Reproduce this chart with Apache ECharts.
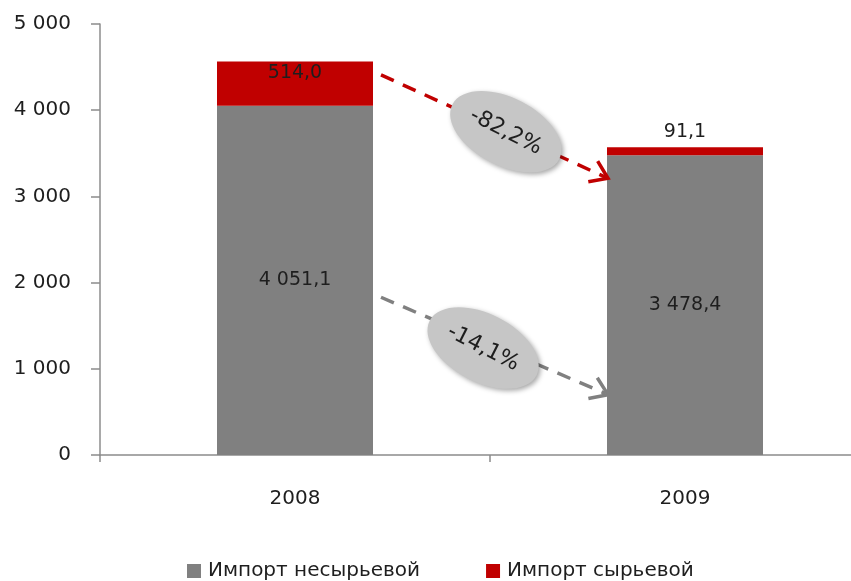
<!DOCTYPE html>
<html><head><meta charset="utf-8">
<script src="https://cdn.jsdelivr.net/npm/echarts@6/dist/echarts.min.js"></script>
<style>html,body{margin:0;padding:0;background:#fff}#c{width:851px;height:581px}</style>
</head><body><div id="c"></div>
<script>
const categories = ['2008', '2009'];
const nonRawImport = [4051.1, 3478.4];
const rawImport = [514.0, 91.1];
const seriesNames = ['Импорт несырьевой', 'Импорт сырьевой'];
const yTicks = [0, 1000, 2000, 3000, 4000, 5000];
const changeLabels = ['-82,2%', '-14,1%'];
const arrowStartValues = [4410, 1830];
const arrowEndValues = [3210, 700];

const FONT = 'DejaVu Sans';
const GRAY = '#808080', RED = '#c00000', TXT = '#1e1e1e';
function fmt(v, dec) {
  let s = dec ? v.toFixed(dec) : String(Math.round(v));
  let parts = s.split('.');
  let i = parts[0].replace(/\B(?=(\d{3})+(?!\d))/g, ' ');
  return parts[1] ? i + ',' + parts[1] : i;
}
const chart = echarts.init(document.getElementById('c'), null, {renderer: 'canvas'});
const rawLabelPos = ['insideTop', 'top'];
chart.setOption({
  animation: false,
  grid: {left: 100, top: 24, right: -29, bottom: 126, containLabel: false, outerBoundsMode: 'none'},
  legend: {
    left: 182, top: 556, itemWidth: 14, itemHeight: 14, itemGap: 66, icon: 'rect',
    data: seriesNames,
    textStyle: {fontFamily: FONT, fontSize: 20, color: TXT, padding: [0, 0, 0, 2]}
  },
  xAxis: {
    type: 'category', data: categories,
    axisLine: {lineStyle: {color: '#8c8c8c', width: 1.5}},
    axisTick: {show: true, length: 7, lineStyle: {color: '#8c8c8c', width: 1.5}},
    axisLabel: {fontFamily: FONT, fontSize: 20, color: TXT, margin: 34}
  },
  yAxis: {
    type: 'value', min: yTicks[0], max: yTicks[yTicks.length - 1], interval: yTicks[1] - yTicks[0],
    splitLine: {show: false},
    axisLine: {show: true, lineStyle: {color: '#8c8c8c', width: 1.5}},
    axisTick: {show: true, length: 9, lineStyle: {color: '#8c8c8c', width: 1.5}},
    axisLabel: {fontFamily: FONT, fontSize: 20, color: TXT, margin: 29, formatter: v => fmt(v)}
  },
  series: [
    {
      name: seriesNames[0], type: 'bar', stack: 's', barWidth: '40%',
      itemStyle: {color: GRAY},
      label: {show: true, position: 'inside', fontFamily: FONT, fontSize: 19, color: TXT,
        formatter: p => fmt(p.value, 1)},
      data: nonRawImport
    },
    {
      name: seriesNames[1], type: 'bar', stack: 's', barWidth: '40%',
      itemStyle: {color: RED},
      label: {show: true, fontFamily: FONT, fontSize: 19, color: TXT,
        formatter: p => fmt(p.value, 1)},
      data: rawImport.map((v, i) => ({value: v, label: {position: rawLabelPos[i], distance: rawLabelPos[i] === 'top' ? 6 : 2}}))
    }
  ]
});

// annotations positioned through the chart's own scales
const p0 = chart.convertToPixel({xAxisIndex: 0}, categories[0]);
const p1 = chart.convertToPixel({xAxisIndex: 0}, categories[1]);
const half = (p1 - p0) * 0.4 / 2;
const arrowColors = [RED, GRAY];
const badgeT = [0.55, 0.45];
const badgeShift = [0, 7];
const graphics = [];
for (let k = 0; k < 2; k++) {
  const x1 = p0 + half + 8, x2 = p1 - half + 1;
  const y1 = chart.convertToPixel({yAxisIndex: 0}, arrowStartValues[k]);
  const y2 = chart.convertToPixel({yAxisIndex: 0}, arrowEndValues[k]);
  const ang = Math.atan2(y2 - y1, x2 - x1);
  graphics.push({type: 'line', z: 10, shape: {x1: x1, y1: y1, x2: x2 - 3 * Math.cos(ang), y2: y2 - 3 * Math.sin(ang)},
    style: {stroke: arrowColors[k], lineWidth: 3.5, lineDash: [14, 10]}});
  const L = 20, a = 0.6;
  graphics.push({type: 'polyline', z: 10, shape: {points: [
      [x2 - L * Math.cos(ang - a), y2 - L * Math.sin(ang - a)], [x2, y2],
      [x2 - L * Math.cos(ang + a), y2 - L * Math.sin(ang + a)]]},
    style: {stroke: arrowColors[k], lineWidth: 3.5, fill: null, lineJoin: 'miter'}});
  const cx = x1 + (x2 - x1) * badgeT[k];
  const cy = y1 + (y2 - y1) * badgeT[k] + badgeShift[k];
  graphics.push({type: 'ellipse', z: 20, x: cx, y: cy, rotation: -27 * Math.PI / 180,
    shape: {cx: 0, cy: 0, rx: 60, ry: 34},
    style: {fill: '#c6c6c6', shadowBlur: 5, shadowColor: 'rgba(0,0,0,0.35)', shadowOffsetX: 2, shadowOffsetY: 2}});
  graphics.push({type: 'text', z: 30, x: cx, y: cy, rotation: -27 * Math.PI / 180,
    style: {text: changeLabels[k], x: 0, y: 0, align: 'center', verticalAlign: 'middle',
      fontFamily: FONT, fontSize: 22, fill: TXT}});
}
chart.setOption({graphic: graphics});
</script></body></html>
